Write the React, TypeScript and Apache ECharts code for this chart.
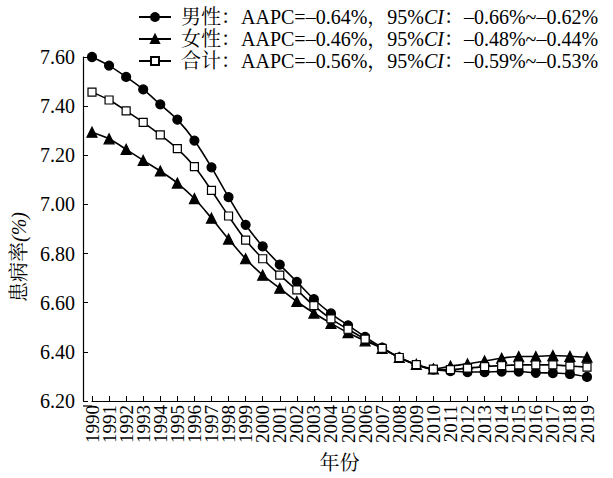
import React, { useEffect, useRef } from "react";
import * as echarts from "echarts";

const years = [
  "1990", "1991", "1992", "1993", "1994", "1995", "1996", "1997", "1998", "1999",
  "2000", "2001", "2002", "2003", "2004", "2005", "2006", "2007", "2008", "2009",
  "2010", "2011", "2012", "2013", "2014", "2015", "2016", "2017", "2018", "2019",
];

const male = [
  7.6, 7.565, 7.519, 7.468, 7.407, 7.345, 7.26, 7.151, 7.03, 6.917,
  6.829, 6.755, 6.685, 6.614, 6.556, 6.508, 6.461, 6.417, 6.377, 6.347,
  6.328, 6.322, 6.318, 6.318, 6.32, 6.32, 6.315, 6.314, 6.31, 6.298,
];

const female = [
  7.294, 7.267, 7.224, 7.179, 7.136, 7.087, 7.024, 6.944, 6.859, 6.779,
  6.712, 6.659, 6.605, 6.558, 6.516, 6.478, 6.445, 6.414, 6.377, 6.349,
  6.331, 6.342, 6.351, 6.363, 6.374, 6.381, 6.381, 6.385, 6.382, 6.378,
];

const total = [
  7.457, 7.425, 7.381, 7.334, 7.283, 7.227, 7.154, 7.057, 6.953, 6.855,
  6.779, 6.712, 6.652, 6.588, 6.534, 6.492, 6.452, 6.414, 6.377, 6.348,
  6.33, 6.328, 6.334, 6.34, 6.344, 6.347, 6.347, 6.347, 6.342, 6.338,
];

const seriesNames = ["男性", "女性", "合计"];
const legendTexts: Record<string, string> = {
  男性: "男性：AAPC=–0.64%，95%{i|CI}：–0.66%~–0.62%",
  女性: "女性：AAPC=–0.46%，95%{i|CI}：–0.48%~–0.44%",
  合计: "合计：AAPC=–0.56%，95%{i|CI}：–0.59%~–0.53%",
};

const yMin = 6.2;
const yMax = 7.6;
const yStep = 0.2;

const FONT = '"Times New Roman", "Liberation Serif", "Noto Serif CJK SC", "Noto Sans CJK SC", serif';

export default function App() {
  const ref = useRef<HTMLDivElement>(null);
  useEffect(() => {
    if (!ref.current) return;
    const chart = echarts.init(ref.current, null, { renderer: "svg" });
    const mk = (name: string, data: number[], symbol: string, size: number, fill: string) => ({
      name,
      type: "line",
      data,
      smooth: 0.3,
      symbol,
      symbolSize: size,
      showSymbol: true,
      lineStyle: { color: "#000", width: 1.6 },
      itemStyle: { color: fill, borderColor: "#000", borderWidth: 1.2 },
      z: 3,
    });
    chart.setOption({
      animation: false,
      backgroundColor: "#fff",
      textStyle: { fontFamily: FONT, color: "#000" },
      legend: {
        data: seriesNames,
        orient: "vertical",
        left: 133,
        top: 2,
        itemGap: 2,
        itemWidth: 32,
        itemHeight: 10,
        formatter: (n: string) => legendTexts[n],
        textStyle: {
          fontFamily: FONT,
          fontSize: 20,
          color: "#000",
          padding: [0, 0, 0, 5],
          rich: {
            i: { fontFamily: FONT, fontSize: 20, fontStyle: "italic", color: "#000" },
          },
        },
      },
      grid: { left: 92, right: 26, top: 57, bottom: 72, containLabel: false },
      xAxis: {
        type: "category",
        data: years,
        boundaryGap: false,
        name: "年份",
        nameLocation: "middle",
        nameGap: 52,
        nameTextStyle: { fontFamily: FONT, fontSize: 20, color: "#000" },
        axisLine: { lineStyle: { color: "#000", width: 1.2 } },
        axisTick: { inside: true, length: 5, alignWithLabel: true, interval: 0, lineStyle: { color: "#000" } },
        axisLabel: { rotate: 90, interval: 0, margin: 4, fontFamily: FONT, fontSize: 19, color: "#000" },
        splitLine: { show: false },
      },
      yAxis: {
        type: "value",
        min: yMin,
        max: yMax,
        interval: yStep,
        offset: 9,
        name: "患病率{i|(%)}",
        nameLocation: "middle",
        nameGap: 42,
        nameRotate: 90,
        nameTextStyle: {
          fontFamily: FONT,
          fontSize: 20,
          color: "#000",
          padding: [0, 56, 0, 0],
          rich: { i: { fontFamily: FONT, fontSize: 20, fontStyle: "italic", color: "#000" } },
        },
        axisLine: { show: true, lineStyle: { color: "#000", width: 1.2 } },
        axisTick: { show: true, inside: true, length: 5, lineStyle: { color: "#000" } },
        axisLabel: { fontFamily: FONT, fontSize: 20, color: "#000", margin: 8, formatter: (v: number) => v.toFixed(2) },
        splitLine: { show: false },
      },
      graphic: [
        {
          type: "line",
          shape: { x1: 83, y1: 406, x2: 92, y2: 406 },
          style: { stroke: "#000", lineWidth: 1.2 },
        },
      ],
      series: [
        mk("男性", male, "circle", 9, "#000"),
        mk("女性", female, "triangle", 10, "#000"),
        mk("合计", total, "rect", 8, "#fff"),
      ],
    });
    return () => chart.dispose();
  }, []);
  return <div ref={ref} style={{ width: 613, height: 478, position: "absolute", left: 0, top: 0 }} />;
}
